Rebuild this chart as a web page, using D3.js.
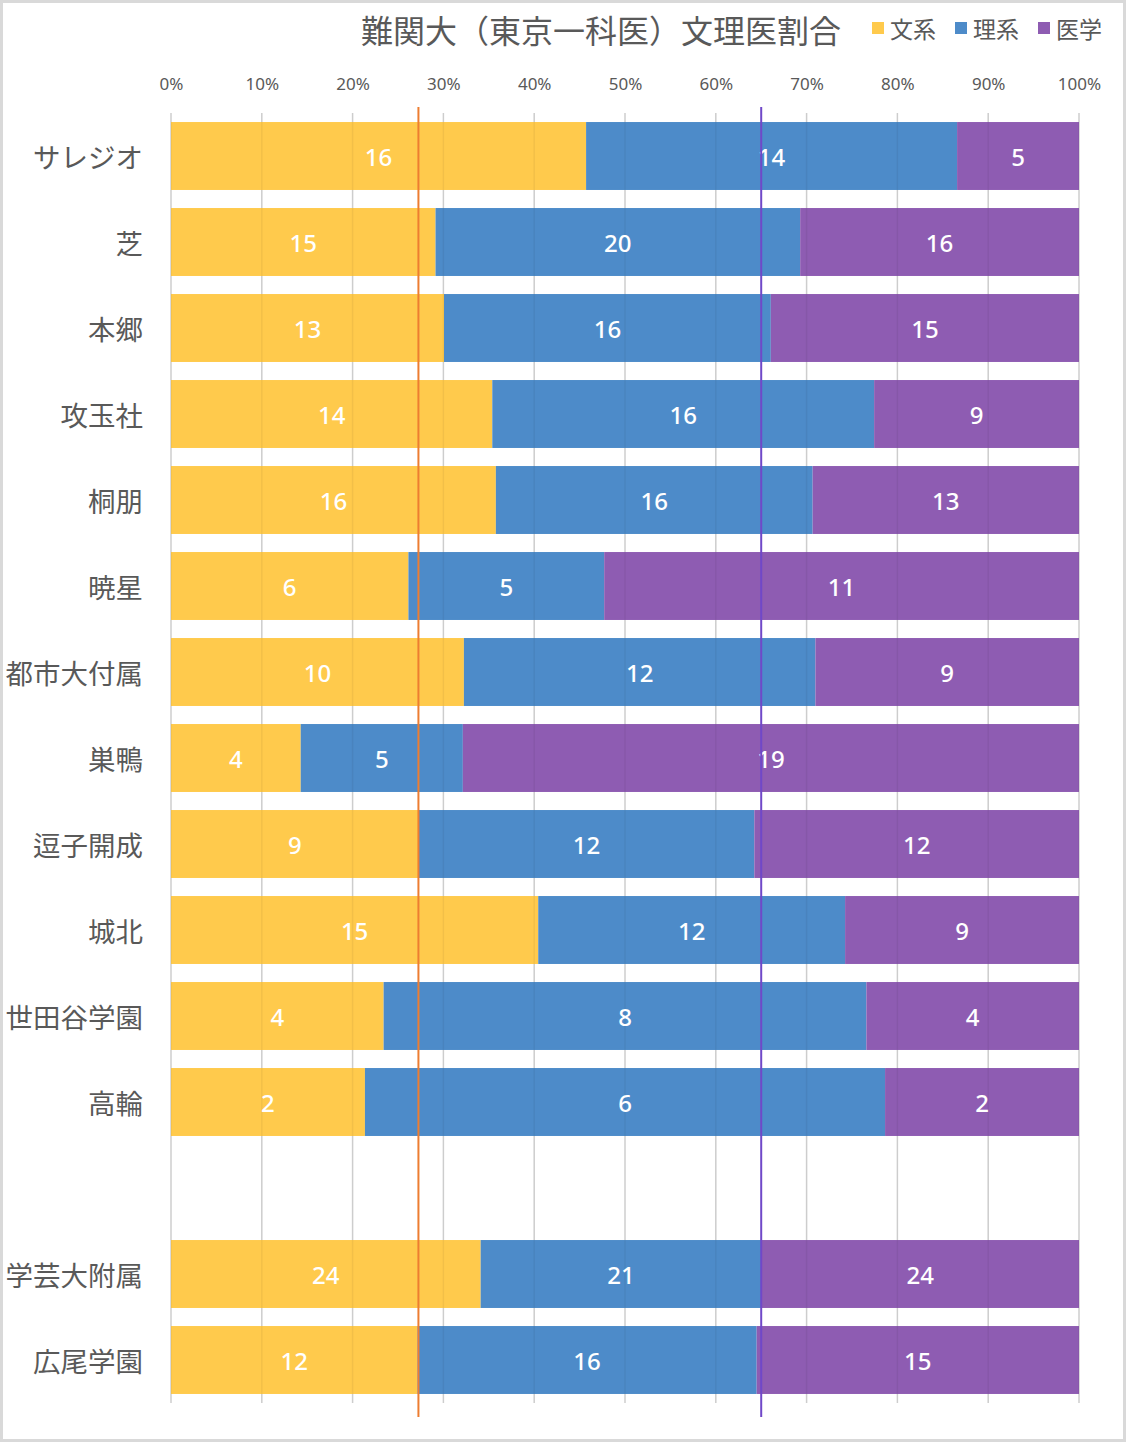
<!DOCTYPE html>
<html>
<head>
<meta charset="utf-8">
<script src="https://cdn.jsdelivr.net/npm/d3@7/dist/d3.min.js"></script>
<style>
  html, body { margin: 0; padding: 0; background: #fff; }
  svg { display: block; }
</style>
</head>
<body>
<svg id="chart" width="1126" height="1442"></svg>
<script>
// ---------- data ----------
const title = "難関大（東京一科医）文理医割合";
const categories = ["サレジオ", "芝", "本郷", "攻玉社", "桐朋", "暁星", "都市大付属", "巣鴨", "逗子開成", "城北", "世田谷学園", "高輪", "", "学芸大附属", "広尾学園"];
const seriesNames = ["文系", "理系", "医学"];
const bunkei = [16.0, 14.8, 13.2, 13.8, 16.1, 5.7, 10, 4, 9.0, 14.6, 3.7, 2.2, null, 23.6, 11.7];
const rikei  = [14.3, 20.4, 15.8, 16.4, 15.7, 4.7, 12, 5, 12.2, 12.2, 8.4, 5.9, null, 21.4, 16.1];
const igaku  = [4.7, 15.6, 14.9, 8.8, 13.2, 11.4, 9, 19, 11.8, 9.3, 3.7, 2.2, null, 24.2, 15.3];
const tickValues = [0, 0.1, 0.2, 0.3, 0.4, 0.5, 0.6, 0.7, 0.8, 0.9, 1.0];
const refLines = [0.2725, 0.650];   // average boundary lines (文系, 文系+理系)

// ---------- style ----------
const colors = ["#FFCA4C", "#4D8BC9", "#8E5CB2"];
const refColors = ["#ED7D31", "#7048C8"];
const textGray = "#595959";
const cjk = "'Noto Sans CJK JP', 'Noto Sans', sans-serif";
const latin = "'Noto Sans', 'Open Sans', sans-serif";

const svg = d3.select("#chart");
const W = 1126, H = 1442;

// border
svg.append("rect").attr("x", 1.5).attr("y", 1.5).attr("width", W - 3).attr("height", H - 3)
  .attr("fill", "#fff").attr("stroke", "#d9d9d9").attr("stroke-width", 3);

const keys = categories.map((c, i) => c === "" ? "__blank" + i : c);

const x = d3.scaleLinear().domain([0, 1]).range([171, 1079]);
const y = d3.scaleBand().domain(keys).range([113, 1403]).paddingInner(0.21).paddingOuter(0.105);

// rows
const rows = categories.map((c, i) => ({ key: keys[i], name: c, vals: [bunkei[i], rikei[i], igaku[i]] }))
  .filter(r => r.vals[0] != null);
const stackData = rows.map(r => {
  const total = d3.sum(r.vals);
  const o = { key: r.key };
  seriesNames.forEach((s, j) => { o[s] = r.vals[j] / total; o["raw_" + s] = r.vals[j]; });
  return o;
});
const stacked = d3.stack().keys(seriesNames)(stackData);

// gridlines (under bars)
const grid = svg.append("g");
grid.selectAll("line").data(tickValues).join("line")
  .attr("x1", d => x(d)).attr("x2", d => x(d))
  .attr("y1", 113).attr("y2", 1403)
  .attr("stroke", "#d9d9d9").attr("stroke-width", 1.5);

// axis tick labels (top)
const axis = d3.axisTop(x).tickValues(tickValues).tickFormat(d3.format(".0%")).tickSize(0).tickPadding(0);
const axG = svg.append("g").attr("transform", "translate(0,90)").call(axis);
axG.select(".domain").remove();
axG.selectAll("text").attr("fill", textGray).style("font-family", latin).style("font-size", "17px");

// bars
const barG = svg.append("g");
stacked.forEach((layer, j) => {
  barG.append("g").attr("fill", colors[j])
    .selectAll("rect").data(layer).join("rect")
    .attr("x", d => x(d[0]))
    .attr("y", d => y(d.data.key))
    .attr("width", d => x(d[1]) - x(d[0]))
    .attr("height", y.bandwidth());
});

// faint gridlines showing through bars
svg.append("g").selectAll("line").data(tickValues).join("line")
  .attr("x1", d => x(d)).attr("x2", d => x(d))
  .attr("y1", 113).attr("y2", 1403)
  .attr("stroke", "#000").attr("stroke-opacity", 0.05).attr("stroke-width", 1.5);

// data labels
stacked.forEach((layer, j) => {
  svg.append("g").selectAll("text").data(layer).join("text")
    .attr("x", d => (x(d[0]) + x(d[1])) / 2)
    .attr("y", d => y(d.data.key) + y.bandwidth() / 2)
    .attr("text-anchor", "middle")
    .attr("dominant-baseline", "central")
    .attr("fill", "#fff")
    .style("font-family", latin).style("font-size", "24px").style("font-weight", 500)
    .text(d => Math.round(d.data["raw_" + seriesNames[j]]));
});

// category labels
svg.append("g").selectAll("text").data(categories.map((c, i) => ({ c, k: keys[i] }))).join("text")
  .attr("x", 143)
  .attr("y", d => y(d.k) + y.bandwidth() / 2)
  .attr("text-anchor", "end")
  .attr("dominant-baseline", "central")
  .attr("fill", textGray)
  .style("font-family", cjk).style("font-size", "27.5px")
  .text(d => d.c);

// reference lines
svg.append("g").selectAll("line").data(refLines).join("line")
  .attr("x1", d => x(d)).attr("x2", d => x(d))
  .attr("y1", 107).attr("y2", 1417)
  .attr("stroke", (d, i) => refColors[i]).attr("stroke-width", 2);

// title
svg.append("text").attr("x", 601).attr("y", 29)
  .attr("text-anchor", "middle").attr("dominant-baseline", "central")
  .attr("fill", textGray)
  .style("font-family", cjk).style("font-size", "32px")
  .text(title);

// legend
const legendX = [872, 955, 1038];
const lg = svg.append("g");
seriesNames.forEach((s, j) => {
  lg.append("rect").attr("x", legendX[j]).attr("y", 22).attr("width", 12).attr("height", 12).attr("fill", colors[j]);
  lg.append("text").attr("x", legendX[j] + 18).attr("y", 28)
    .attr("dominant-baseline", "central").attr("fill", textGray)
    .style("font-family", cjk).style("font-size", "23px").text(s);
});
</script>
</body>
</html>
